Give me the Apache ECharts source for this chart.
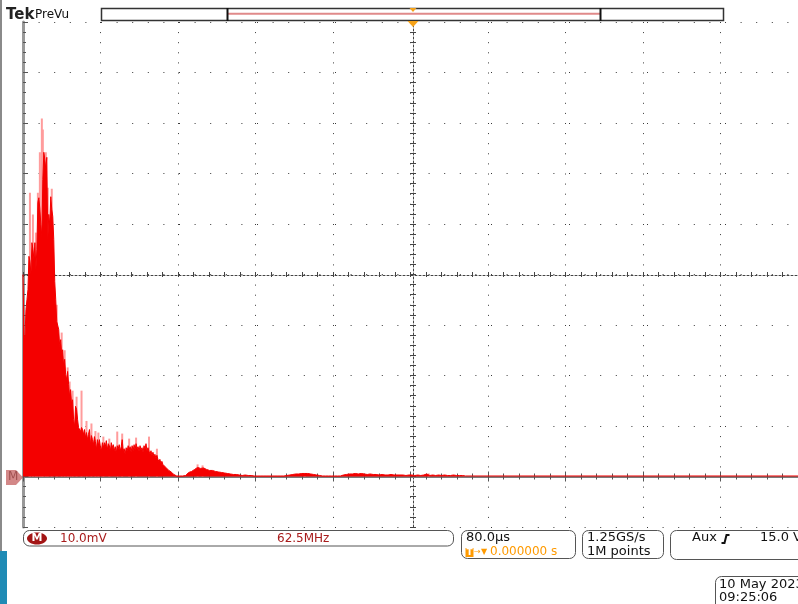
<!DOCTYPE html>
<html><head><meta charset="utf-8">
<script src="https://cdn.jsdelivr.net/npm/echarts@6/dist/echarts.min.js"></script>
<style>html,body{margin:0;padding:0;background:#fff;overflow:hidden}#c{width:798px;height:604px}</style>
</head><body><div id="c"></div>
<script>
// ---- spectrum data (amplitude in mV, frequency in MHz) ----
const mainStartMHz = 0;
const mainStepMHz = 0.8;
const mainMv = [
40.0,28.1,27.5,33.1,35.0,37.0,43.6,42.6,40.0,46.3,45.0,43.0,46.3,41.0,45.0,54.3,55.2,52.9,49.9,47.5,
58.8,64.2,62.8,60.8,63.2,46.9,51.9,49.9,55.4,52.9,51.5,46.9,38.6,35.0,30.7,30.5,29.1,25.7,27.1,24.2,
25.1,21.8,23.2,20.2,19.2,20.8,18.2,15.8,17.2,14.3,15.2,11.3,9.9,13.9,13.3,11.3,9.7,9.9,8.9,9.7,
9.3,8.3,9.3,7.7,8.7,7.3,8.3,9.3,6.3,8.1,7.3,6.3,7.9,6.9,5.3,7.3,6.1,7.3,5.9,5.0,
6.7,5.7,6.7,5.9,7.1,5.3,6.5,6.1,5.0,6.7,5.7,6.3,5.1,5.9,4.6,6.1,5.5,6.3,5.0,5.9,
7.3,5.1,5.5,4.4,5.7,5.0,6.1,5.3,5.9,4.8,6.1,5.1,6.3,5.3,6.5,5.5,5.9,5.0,6.1,5.3,
5.7,4.8,6.1,5.5,6.5,5.1,5.7,5.0,4.4,5.1,4.2,4.8,4.0,4.4,3.6,4.2,3.4,3.0,3.4,2.6,
3.0,2.4,2.2,2.6,1.8,2.0,1.6,1.2,1.4,1.0,0.8,0.6,0.4,0.2,0.1,0.1,0.1,0.1,0.1,0.1,0.1
];
const tailStartMHz = 128.8;
const tailStepMHz = 2.4;
const tailMv = [
0.1,0.2,0.8,1.0,1.4,1.8,1.6,1.7,1.4,1.2,1.2,1.0,0.9,0.8,0.7,0.6,0.5,0.4,0.4,0.3,
0.2,0.3,0.2,0.2,0.1,0.1,0.1,0.1,0.1,0.1,0.1,0.1,0.1,0.1,0.1,0.2,0.3,0.4,0.5,0.5,
0.6,0.6,0.6,0.5,0.4,0.3,0.2,0.1,0.1,0.1,0.1,0.1,0.1,0.1,0.3,0.4,0.5,0.5,0.6,0.5,
0.6,0.5,0.4,0.5,0.4,0.4,0.3,0.4,0.3,0.3,0.4,0.3,0.3,0.3,0.3,0.2,0.3,0.3,0.2,0.3,
0.2,0.3,0.5,0.2,0.3,0.2,0.3,0.2,0.3,0.2,0.2,0.3,0.2,0.2,0.2,0.1
];
const floorFreqMHz = [356.8, 625];
const floorMv = [0.1, 0.1];
// lighter "peak hold" spikes
const peakFreqMHz = [5.6,8.0,10.4,12.0,13.6,15.2,16.0,18.4,20.0,23.2,27.2,31.2,33.6,36.0,37.6,40.0,43.2,47.2,51.2,55.2,58.4,60.8,64.8,69.6,76.0,80.0,85.6,91.2,101.6,108.0,140.8,144.8,227.2,327.2];
const peakMv =      [56.2,51.9,48.3,56.2,64.2,70.9,68.7,64.2,57.2,57.0,34.0,28.5,25.0,21.6,18.8,17.0,15.8,17.0,11.0,10.5,9.0,8.7,7.9,7.5,8.9,8.5,7.5,7.7,7.9,5.5,2.4,2.2,0.7,0.6];

// ---- axis scale ----
const freqMinMHz = 0, freqMaxMHz = 625, freqDivMHz = 62.5;
const ampMinMv = -10, ampMaxMv = 90, ampDivMv = 10;

// ---- readout texts ----
const chLabel = 'M', vScaleText = '10.0mV', hScaleText = '62.5MHz';
const timeDivText = '80.0µs', trigPosText = '0.000000 s';
const rateText = '1.25GS/s', recText = '1M points';
const trigSrcText = 'Aux', trigLevelText = '15.0 V';
const dateText = '10 May 2023', timeText = '09:25:06';

const spectrum = [];
mainMv.forEach((v, i) => spectrum.push([mainStartMHz + i * mainStepMHz, v]));
tailMv.forEach((v, i) => spectrum.push([tailStartMHz + i * tailStepMHz, v]));
const floorData = floorFreqMHz.map((f, i) => [f, floorMv[i]]);
const peakData = peakFreqMHz.map((f, i) => [f, peakMv[i]]);

const RED = '#f40000';
const FONT = '"DejaVu Sans", Verdana, sans-serif';
const gridC = '#3a3a3a';

const baseX = {type: 'value', min: freqMinMHz, max: freqMaxMHz, interval: freqDivMHz, axisLabel: {show: false}, splitLine: {show: false}};
const baseY = {type: 'value', min: ampMinMv, max: ampMaxMv, interval: ampDivMv, axisLabel: {show: false}, splitLine: {show: false}};

const chart = echarts.init(document.getElementById('c'), null, {renderer: 'canvas'});
chart.setOption({
  animation: false,
  backgroundColor: '#ffffff',
  grid: {left: 23, top: 22, width: 780, height: 505},
  xAxis: [
    Object.assign({}, baseX, {position: 'bottom',
      axisLine: {show: true, lineStyle: {color: '#8c8c8c', width: 1}},
      axisTick: {show: true, inside: true, length: 5, lineStyle: {color: '#555'}},
      minorTick: {show: true, splitNumber: 5, length: 3, lineStyle: {color: '#555'}},
      splitLine: {show: true, lineStyle: {color: gridC, width: 1, type: [1, 9.1]}}}),
    Object.assign({}, baseX, {position: 'top',
      axisLine: {show: true, lineStyle: {color: '#7a7a7a', width: 2}},
      axisTick: {show: true, inside: true, length: 5, lineStyle: {color: '#555'}},
      minorTick: {show: true, splitNumber: 5, length: 3, lineStyle: {color: '#555'}}}),
    Object.assign({}, baseX, {position: 'bottom', offset: -253,
      axisLine: {show: true, lineStyle: {color: '#444', width: 1, type: [2, 2]}},
      axisTick: {show: true, inside: true, length: 3, lineStyle: {color: '#444'}},
      minorTick: {show: true, splitNumber: 5, length: 3, lineStyle: {color: '#444'}}}),
    Object.assign({}, baseX, {position: 'bottom', offset: -253,
      axisLine: {show: false},
      axisTick: {show: true, inside: false, length: 3, lineStyle: {color: '#444'}},
      minorTick: {show: true, splitNumber: 5, length: 3, lineStyle: {color: '#444'}}})
  ],
  yAxis: [
    Object.assign({}, baseY, {position: 'left',
      axisLine: {show: true, lineStyle: {color: '#999', width: 3}},
      axisTick: {show: true, inside: true, length: 5, lineStyle: {color: '#555'}},
      minorTick: {show: true, splitNumber: 5, length: 3, lineStyle: {color: '#555'}},
      splitLine: {show: true, lineStyle: {color: gridC, width: 1, type: [1, 14.6]}}}),
    Object.assign({}, baseY, {position: 'left', offset: -390,
      axisLine: {show: true, lineStyle: {color: '#444', width: 1, type: [2, 2]}},
      axisTick: {show: true, inside: true, length: 3, lineStyle: {color: '#444'}},
      minorTick: {show: true, splitNumber: 5, length: 3, lineStyle: {color: '#444'}}}),
    Object.assign({}, baseY, {position: 'left', offset: -390,
      axisLine: {show: false},
      axisTick: {show: true, inside: false, length: 3, lineStyle: {color: '#444'}},
      minorTick: {show: true, splitNumber: 5, length: 3, lineStyle: {color: '#444'}}})
  ],
  series: [
    {type: 'bar', name: 'peak', data: peakData, barWidth: 2, silent: true, z: 1,
     itemStyle: {color: '#ff9c9c'}},
    {type: 'line', name: 'spectrum', data: spectrum, symbol: 'none', silent: true, z: 2,
     lineStyle: {color: RED, width: 1}, areaStyle: {color: RED, opacity: 1}},
    {type: 'line', name: 'floor', data: floorData, symbol: 'none', silent: true, z: 2,
     lineStyle: {color: RED, width: 1}}
  ],
  graphic: [
    // left edge strip
    {type: 'rect', shape: {x: 0, y: 0, width: 2, height: 551}, style: {fill: '#8a8a8a'}},
    {type: 'rect', shape: {x: 0, y: 551, width: 7, height: 53}, style: {fill: '#1f8bb5'}},
    // header
    {type: 'text', x: 6, y: 15, style: {text: 'Tek', font: 'bold 15px ' + FONT, fill: '#222', verticalAlign: 'middle'}},
    {type: 'text', x: 35, y: 15, style: {text: 'PreVu', font: '12px ' + FONT, fill: '#111', verticalAlign: 'middle'}},
    {type: 'rect', shape: {x: 101.5, y: 8.5, width: 622, height: 12}, style: {fill: '#fff', stroke: '#333', lineWidth: 1.5}},
    {type: 'line', shape: {x1: 228, y1: 13.8, x2: 600, y2: 13.8}, style: {stroke: '#e08a8a', lineWidth: 2}},
    {type: 'line', shape: {x1: 227.5, y1: 8, x2: 227.5, y2: 21}, style: {stroke: '#111', lineWidth: 2}},
    {type: 'line', shape: {x1: 600.5, y1: 8, x2: 600.5, y2: 21}, style: {stroke: '#111', lineWidth: 2}},
    {type: 'polygon', shape: {points: [[409.5, 8], [416.5, 8], [413, 12]]}, style: {fill: '#f5a21a'}},
    {type: 'polygon', shape: {points: [[407.5, 21], [418.5, 21], [413, 27]]}, style: {fill: '#f5a21a'}, z: 100},
    // reference marker
    {type: 'polygon', shape: {points: [[6, 470], [16, 470], [23, 477.5], [16, 485], [6, 485]]}, style: {fill: 'rgba(196,96,96,0.75)'}, z: 100},
    {type: 'text', x: 8, y: 471, style: {text: chLabel, font: '12px ' + FONT, fill: '#a05050'}, z: 101},
    // readout box 1
    {type: 'rect', shape: {x: 23.5, y: 530.5, width: 430, height: 15.5, r: 6}, style: {fill: '#fff', stroke: '#555', lineWidth: 1}},
    {type: 'ellipse', shape: {cx: 37, cy: 538.5, rx: 10, ry: 6}, style: {fill: '#a31515'}},
    {type: 'text', x: 37, y: 538.5, style: {text: chLabel, font: 'bold 11px ' + FONT, fill: '#fff', align: 'center', verticalAlign: 'middle'}},
    {type: 'text', x: 60, y: 538.5, style: {text: vScaleText, font: '12px ' + FONT, fill: '#a81c1c', verticalAlign: 'middle'}},
    {type: 'text', x: 277, y: 538.5, style: {text: hScaleText, font: '12px ' + FONT, fill: '#a81c1c', verticalAlign: 'middle'}},
    // box 2
    {type: 'rect', shape: {x: 461.5, y: 530.5, width: 114, height: 28, r: 6}, style: {fill: '#fff', stroke: '#555', lineWidth: 1}},
    {type: 'text', x: 466, y: 538, style: {text: timeDivText, font: '13px ' + FONT, fill: '#111', verticalAlign: 'middle'}},
    {type: 'rect', shape: {x: 465.5, y: 548, width: 8, height: 9}, style: {fill: '#ff9a00'}},
    {type: 'text', x: 469.5, y: 552.5, style: {text: 'T', font: 'bold 9px ' + FONT, fill: '#fff', align: 'center', verticalAlign: 'middle'}},
    {type: 'text', x: 474, y: 552, style: {text: '→', font: '8px ' + FONT, fill: '#ff9a00', verticalAlign: 'middle'}},
    {type: 'text', x: 481, y: 552, style: {text: '▼', font: '8px ' + FONT, fill: '#ff9a00', verticalAlign: 'middle'}},
    {type: 'text', x: 490, y: 552, style: {text: trigPosText, font: '12px ' + FONT, fill: '#ff9a00', verticalAlign: 'middle'}},
    // box 3
    {type: 'rect', shape: {x: 582.5, y: 530.5, width: 81, height: 28, r: 6}, style: {fill: '#fff', stroke: '#555', lineWidth: 1}},
    {type: 'text', x: 587, y: 538, style: {text: rateText, font: '13px ' + FONT, fill: '#111', verticalAlign: 'middle'}},
    {type: 'text', x: 587, y: 552, style: {text: recText, font: '13px ' + FONT, fill: '#111', verticalAlign: 'middle'}},
    // box 4
    {type: 'rect', shape: {x: 670.5, y: 530.5, width: 140, height: 29, r: 6}, style: {fill: '#fff', stroke: '#555', lineWidth: 1}},
    {type: 'text', x: 692, y: 538, style: {text: trigSrcText, font: '13px ' + FONT, fill: '#111', verticalAlign: 'middle'}},
    {type: 'polyline', shape: {points: [[721.5, 543], [724.5, 543], [726.5, 535], [729.5, 535]]}, style: {stroke: '#111', lineWidth: 2, fill: null}},
    {type: 'text', x: 760, y: 538, style: {text: trigLevelText, font: '13px ' + FONT, fill: '#111', verticalAlign: 'middle'}},
    // date box
    {type: 'rect', shape: {x: 715.5, y: 576.5, width: 100, height: 40, r: 6}, style: {fill: '#fff', stroke: '#555', lineWidth: 1}},
    {type: 'text', x: 719, y: 585, style: {text: dateText, font: '13px ' + FONT, fill: '#111', verticalAlign: 'middle'}},
    {type: 'text', x: 719, y: 598, style: {text: timeText, font: '13px ' + FONT, fill: '#111', verticalAlign: 'middle'}}
  ]
});
</script>
</body></html>
